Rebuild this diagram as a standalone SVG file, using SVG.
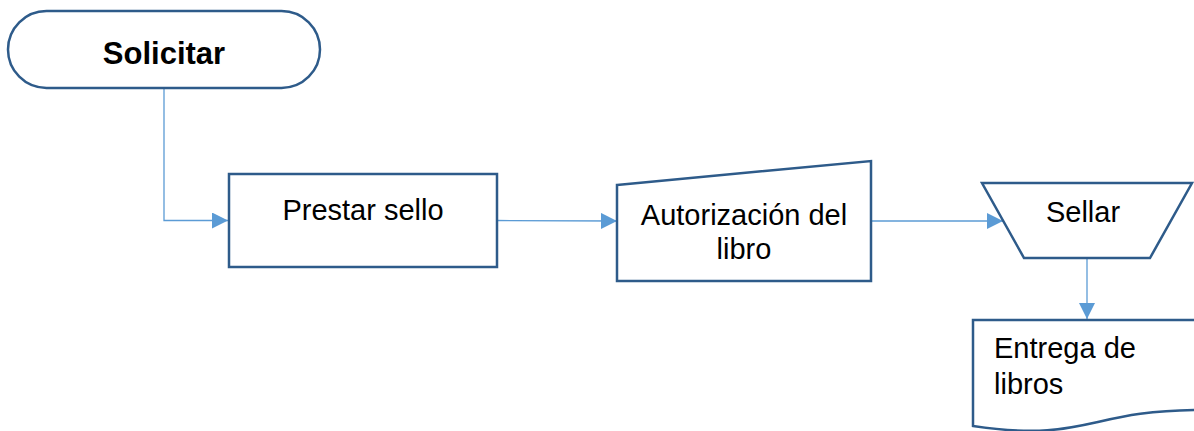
<svg xmlns="http://www.w3.org/2000/svg" width="1194" height="431" viewBox="0 0 1194 431">
<defs>
<style>
.shape{fill:#ffffff;stroke:#2e5b8a;stroke-width:2.5;stroke-linejoin:miter}
.conn{fill:none;stroke:#5b9bd5;stroke-width:1.3}
.lbl{font-family:"Liberation Sans",Arial,sans-serif;font-size:29px;fill:#000000}
.bold{font-weight:bold;font-size:31px}
</style>
<marker id="arr" viewBox="0 0 16 16" refX="16" refY="8" markerWidth="16" markerHeight="16" markerUnits="userSpaceOnUse" orient="auto">
<path d="M0,0 L16,8 L0,16 Z" fill="#5b9bd5"/>
</marker>
</defs>
<rect width="1194" height="431" fill="#ffffff"/>
<g id="connectors">
<path class="conn" d="M164,88 L164,220.5 L228,220.5" marker-end="url(#arr)"/>
<path class="conn" d="M497,220.5 L617,221" marker-end="url(#arr)"/>
<path class="conn" d="M871,221 L1003,221" marker-end="url(#arr)"/>
<path class="conn" d="M1087,259 L1087,319" marker-end="url(#arr)"/>
</g>
<g id="solicitar">
<rect class="shape" x="8" y="11" width="312" height="77" rx="38.5" ry="38.5"/>
<text class="lbl bold" x="164" y="64" text-anchor="middle">Solicitar</text>
</g>
<g id="prestar">
<rect class="shape" x="229" y="174" width="268" height="93"/>
<text class="lbl" x="363" y="220" text-anchor="middle">Prestar sello</text>
</g>
<g id="autorizacion">
<path class="shape" d="M617,185 L871,161 L871,281 L617,281 Z"/>
<text class="lbl" x="744" y="225" text-anchor="middle">Autorización del</text>
<text class="lbl" x="744" y="259" text-anchor="middle">libro</text>
</g>
<g id="sellar">
<path class="shape" d="M982,183 L1192,183 L1150,258 L1024,258 Z"/>
<text class="lbl" x="1083" y="222" text-anchor="middle">Sellar</text>
</g>
<g id="entrega">
<path class="shape" d="M973,320 L1201,320 L1201,410 C1087,410 1087,443 973,426 Z"/>
<text class="lbl" x="994" y="358">Entrega de</text>
<text class="lbl" x="994" y="394">libros</text>
</g>
</svg>
